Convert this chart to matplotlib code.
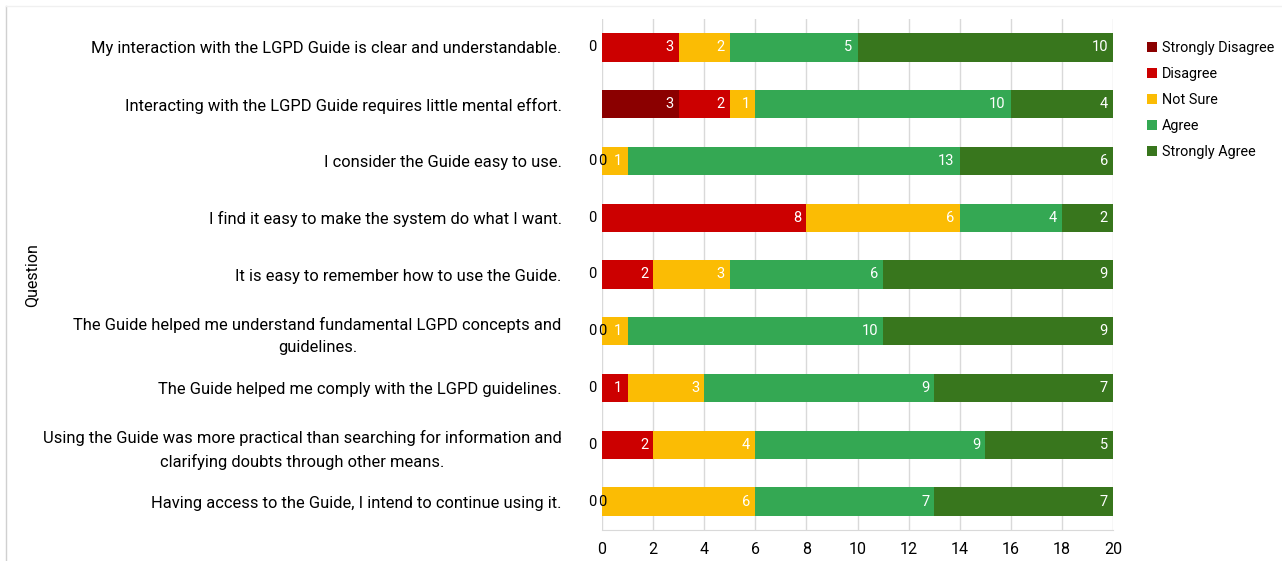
import matplotlib.pyplot as plt
import numpy as np

plt.rcParams['font.family'] = ['Roboto', 'DejaVu Sans']

questions = [
    "My interaction with the LGPD Guide is clear and understandable.",
    "Interacting with the LGPD Guide requires little mental effort.",
    "I consider the Guide easy to use.",
    "I find it easy to make the system do what I want.",
    "It is easy to remember how to use the Guide.",
    "The Guide helped me understand fundamental LGPD concepts and\nguidelines.",
    "The Guide helped me comply with the LGPD guidelines.",
    "Using the Guide was more practical than searching for information and\nclarifying doubts through other means.",
    "Having access to the Guide, I intend to continue using it.",
]

responses = ["Strongly Disagree", "Disagree", "Not Sure", "Agree", "Strongly Agree"]

strongly_disagree = [0, 3, 0, 0, 0, 0, 0, 0, 0]
disagree = [3, 2, 0, 8, 2, 0, 1, 2, 0]
not_sure = [2, 1, 1, 6, 3, 1, 3, 4, 6]
agree = [5, 10, 13, 4, 6, 10, 9, 9, 7]
strongly_agree = [10, 4, 6, 2, 9, 9, 7, 5, 7]

colors = ['#8B0000', '#CC0000', '#FBBC04', '#34A853', '#38761D']

series = [strongly_disagree, disagree, not_sure, agree, strongly_agree]

fig = plt.figure(figsize=(12.82, 5.61), dpi=100)
ax = fig.add_axes([602 / 1282, 1 - 530 / 561, 511 / 1282, 511 / 561])

y = np.arange(len(questions))
left = np.zeros(len(questions))
for i, (vals, name, col) in enumerate(zip(series, responses, colors)):
    vals = np.array(vals, dtype=float)
    ax.barh(y, vals, left=left, height=0.5, color=col, label=name, zorder=3)
    for yi, v, l in zip(y, vals, left):
        if v == 0:
            # zero values sit just outside the start of the bar
            xoff = -10 if i == 0 else 0
            ax.annotate("0", (l, yi), xytext=(xoff, 0), textcoords='offset pixels',
                        ha='center', va='center', fontsize=10.5, color='black', zorder=4)
        else:
            ax.annotate(f"{int(v)}", (l + v, yi), xytext=(-5, 0), textcoords='offset pixels',
                        ha='right', va='center', fontsize=10.5, color='white', zorder=4)
    left += vals

ax.set_xlim(0, 20)
ax.set_ylim(len(questions) - 0.5, -0.5)
ax.set_xticks(np.arange(0, 21, 2))
ax.set_yticks(y)
ax.set_yticklabels(questions, fontsize=11.9, multialignment='center', linespacing=1.55)
ax.tick_params(axis='x', labelsize=11.5, length=0, pad=9)
ax.tick_params(axis='y', length=0, pad=29)
ax.grid(axis='x', color='#d9d9d9', linewidth=1, zorder=0)
for side in ['top', 'right', 'left']:
    ax.spines[side].set_visible(False)
ax.spines['bottom'].set_color('#d9d9d9')

fig.text(32 / 1282, 1 - 275 / 561, "Question", rotation=90, ha='center', va='center', fontsize=11.5)

ax.legend(loc='upper left', bbox_to_anchor=(1134 / 1282, 1 - 28 / 561), bbox_transform=fig.transFigure,
          frameon=False, fontsize=10.4, handlelength=0.7, handleheight=0.7, handletextpad=0.35,
          labelspacing=0.83)

# light frame around the chart area
fig.add_artist(plt.Line2D([6 / 1282, 6 / 1282], [0, 1 - 6 / 561], transform=fig.transFigure,
                          color='#d0d0d0', linewidth=1))
fig.add_artist(plt.Line2D([6 / 1282, 1], [1 - 6 / 561, 1 - 6 / 561], transform=fig.transFigure,
                          color='#f0f0f0', linewidth=1))

fig.savefig("out.png", dpi=100)
